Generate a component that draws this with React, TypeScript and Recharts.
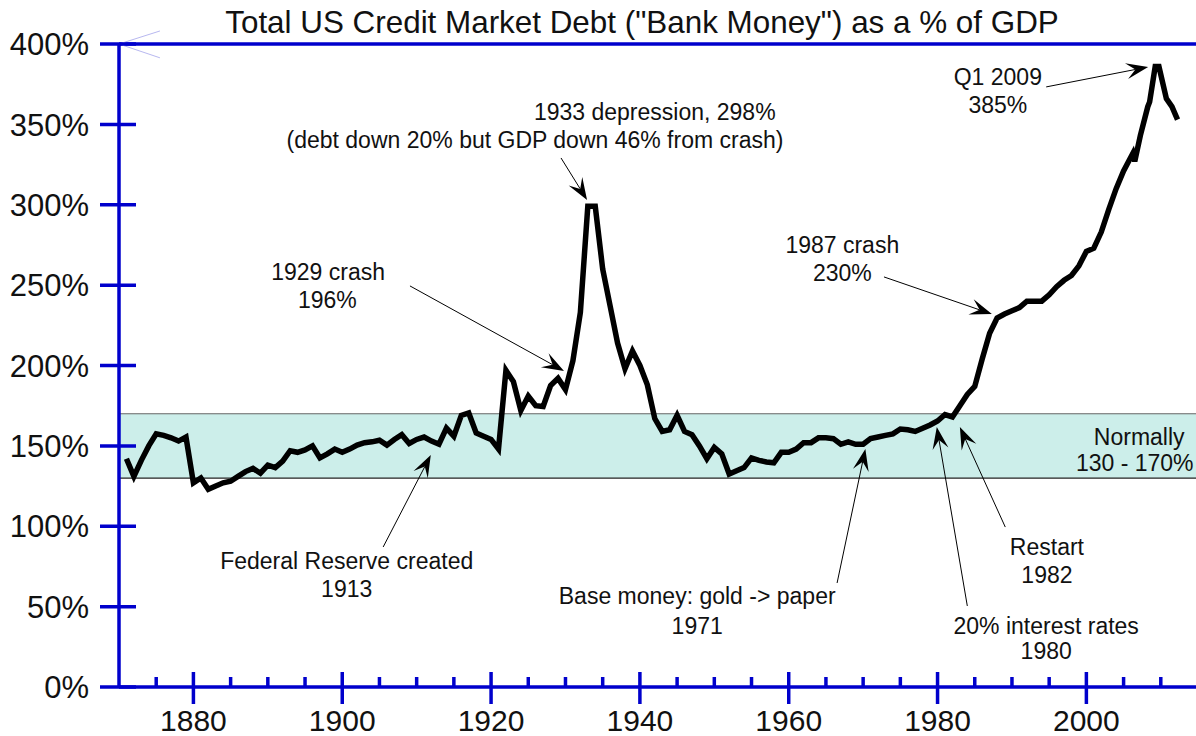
import React from "react";
import {
  LineChart,
  Line,
  XAxis,
  YAxis,
  ReferenceArea,
  ReferenceLine,
  ReferenceDot,
} from "recharts";

// debt as % of GDP (annual, quarterly near the end)
const years = [
  1871, 1872, 1873, 1874, 1875, 1876, 1877, 1878, 1879, 1880,
  1881, 1882, 1883, 1884, 1885, 1886, 1887, 1888, 1889, 1890,
  1891, 1892, 1893, 1894, 1895, 1896, 1897, 1898, 1899, 1900,
  1901, 1902, 1903, 1904, 1905, 1906, 1907, 1908, 1909, 1910,
  1911, 1912, 1913, 1914, 1915, 1916, 1917, 1918, 1919, 1920,
  1921, 1922, 1923, 1924, 1925, 1926, 1927, 1928, 1929, 1930,
  1931, 1932, 1933, 1934, 1935, 1936, 1937, 1938, 1939, 1940,
  1941, 1942, 1943, 1944, 1945, 1946, 1947, 1948, 1949, 1950,
  1951, 1952, 1953, 1954, 1955, 1956, 1957, 1958, 1959, 1960,
  1961, 1962, 1963, 1964, 1965, 1966, 1967, 1968, 1969, 1970,
  1971, 1972, 1973, 1974, 1975, 1976, 1977, 1978, 1979, 1980,
  1981, 1982, 1983, 1984, 1985, 1986, 1987, 1988, 1989, 1990,
  1991, 1992, 1993, 1994, 1995, 1996, 1997, 1998, 1999, 2000,
  2001, 2002, 2003, 2004, 2005, 2006.25, 2006.5, 2007.25, 2008.25, 2008.5,
  2009.25, 2009.75, 2010.75, 2011.5, 2012.25,
];

const debtPct = [
  142, 131, 141, 150, 157.5, 156.5, 155, 153, 155.5, 127,
  130, 123, 125, 127, 128, 131, 134, 136, 133, 138,
  136.5, 140.5, 147, 146, 147.5, 150, 142.5, 145, 148, 146,
  148, 150.5, 152, 152.5, 153.5, 150.5, 154, 157, 151.5, 154,
  155.5, 153, 151, 161, 156, 169, 170.5, 158, 156, 154,
  148, 197, 190, 172, 181, 175, 174.5, 187.5, 192, 185,
  203, 233, 299, 299, 260, 237, 214, 198, 209, 200,
  188, 167, 159, 160, 169, 159, 157, 150, 142, 149,
  145, 132.5, 134.5, 136.5, 142.5, 141, 140, 139.5, 146, 146,
  148, 152, 152, 155, 155, 154.5, 151, 152.5, 151, 151,
  154.5, 155.5, 156.5, 157.5, 160.5, 160, 159, 161, 163, 165.5,
  169.5, 168, 175, 182, 187, 204, 220, 229.5, 232, 234,
  236, 240, 240, 240, 244, 249, 253, 256, 262, 271,
  273, 283, 297, 310, 321, 332, 327, 343, 361, 364,
  386, 386, 366, 361, 353,
];

const yTicks = [0, 50, 100, 150, 200, 250, 300, 350, 400];
const labelYears = [1880, 1900, 1920, 1940, 1960, 1980, 2000];
const xTicks = [
  1875, 1880, 1885, 1890, 1895, 1900, 1905, 1910, 1915, 1920, 1925, 1930,
  1935, 1940, 1945, 1950, 1955, 1960, 1965, 1970, 1975, 1980, 1985, 1990,
  1995, 2000, 2005, 2010,
];

const normalLow = 130;
const normalHigh = 170;

const data = years.map((year, i) => ({ year, pct: debtPct[i] }));

// annotation text, placed in data coordinates
const notes = [
  { x: 1942.0, y: 357.7, text: "1933 depression, 298%" },
  { x: 1925.9, y: 340.3, text: "(debt down 20% but GDP down 46% from crash)" },
  { x: 1898.1, y: 258.2, text: "1929 crash" },
  { x: 1898.0, y: 240.7, text: "196%" },
  { x: 1900.6, y: 78.4, text: "Federal Reserve created" },
  { x: 1900.6, y: 61.0, text: "1913" },
  { x: 1947.7, y: 56.6, text: "Base money: gold -> paper" },
  { x: 1947.7, y: 37.9, text: "1971" },
  { x: 1967.2, y: 275.0, text: "1987 crash" },
  { x: 1967.2, y: 257.5, text: "230%" },
  { x: 1988.1, y: 379.5, text: "Q1 2009" },
  { x: 1988.1, y: 362.1, text: "385%" },
  { x: 2007.1, y: 155.5, text: "Normally" },
  { x: 2006.5, y: 139.3, text: "130 - 170%" },
  { x: 1994.7, y: 87.1, text: "Restart" },
  { x: 1994.7, y: 69.7, text: "1982" },
  { x: 1994.6, y: 37.9, text: "20% interest rates" },
  { x: 1994.6, y: 22.4, text: "1980" },
];

// arrows: from -> tip
const arrows = [
  { from: [1929.4, 329.1], to: [1932.9, 303.0] },
  { from: [1909.1, 249.5], to: [1929.8, 196.6] },
  { from: [1905.5, 87.1], to: [1911.9, 144.3] },
  { from: [1966.5, 64.7], to: [1970.3, 148.1] },
  { from: [1972.8, 255.1], to: [1987.3, 232.0] },
  { from: [1994.6, 373.3], to: [2008.3, 385.7] },
  { from: [1989.1, 99.5], to: [1983.0, 161.7] },
  { from: [1984.0, 50.4], to: [1979.9, 161.7] },
];

const BLUE = "#0000CC";
const FONT = "'Liberation Sans', Arial, sans-serif";

function ArrowShape(props: any) {
  const { x1, y1, x2, y2 } = props;
  const ang = Math.atan2(y2 - y1, x2 - x1);
  const len = 22;
  const half = 8;
  const notch = 13;
  const cos = Math.cos(ang);
  const sin = Math.sin(ang);
  const pt = (back: number, side: number) =>
    `${x2 - back * cos - side * sin},${y2 - back * sin + side * cos}`;
  const head = [pt(0, 0), pt(len, half), pt(notch, 0), pt(len, -half)].join(" ");
  return (
    <g>
      <line x1={x1} y1={y1} x2={x2 - notch * cos} y2={y2 - notch * sin} stroke="#000" strokeWidth={1} />
      <polygon points={head} fill="#000" />
    </g>
  );
}

function YTick(props: any) {
  const { x, y, payload } = props;
  return (
    <g>
      <line x1={x - 19} x2={x + 17} y1={y} y2={y} stroke={BLUE} strokeWidth={3.5} />
      <text x={x - 30} y={y} dy="0.36em" textAnchor="end" fontSize={31} fill="#111" fontFamily={FONT}>
        {payload.value}%
      </text>
    </g>
  );
}

function XTick(props: any) {
  const { x, y, payload } = props;
  const major = labelYears.includes(payload.value);
  return (
    <g>
      {major ? (
        <line x1={x} x2={x} y1={y - 15} y2={y + 17} stroke={BLUE} strokeWidth={3.5} />
      ) : (
        <line x1={x} x2={x} y1={y - 10} y2={y} stroke={BLUE} strokeWidth={3.5} />
      )}
      {major && (
        <text x={x} y={y + 33} dy="0.36em" textAnchor="middle" fontSize={30} fill="#111" fontFamily={FONT}>
          {payload.value}
        </text>
      )}
    </g>
  );
}

export default function App() {
  return (
    <div style={{ position: "relative", width: 1196, height: 736, overflow: "hidden" }}>
      <style>{"body{margin:0;overflow:hidden}"}</style>
      <div
        style={{
          position: "absolute",
          left: 42,
          top: 0,
          width: 1200,
          lineHeight: "45px",
          textAlign: "center",
          fontSize: 31.4,
          fontFamily: FONT,
          color: "#111",
          zIndex: 2,
        }}
      >
        Total US Credit Market Debt ("Bank Money") as a % of GDP
      </div>
      <LineChart
        width={1200}
        height={736}
        data={data}
        margin={{ top: 44, right: 2, bottom: 0, left: 0 }}
      >
        <ReferenceArea
          y1={normalLow}
          y2={normalHigh}
          fill="#CCEEEA"
          fillOpacity={1}
          stroke="none"
          ifOverflow="visible"
        />
        <ReferenceLine y={normalHigh} stroke="#666" strokeWidth={1.2} />
        <ReferenceLine y={normalLow} stroke="#222" strokeWidth={1.2} />
        <XAxis
          dataKey="year"
          type="number"
          domain={[1870, 2015]}
          ticks={xTicks}
          interval={0}
          height={49}
          tickSize={0}
          tickMargin={0}
          tickLine={false}
          axisLine={{ stroke: BLUE, strokeWidth: 3.5 }}
          tick={<XTick />}
        />
        <YAxis
          type="number"
          domain={[0, 400]}
          ticks={yTicks}
          interval={0}
          width={119}
          tickSize={0}
          tickMargin={0}
          tickLine={false}
          axisLine={{ stroke: BLUE, strokeWidth: 3.5 }}
          tick={<YTick />}
        />
        <ReferenceLine y={400} stroke={BLUE} strokeWidth={3.5} />
        <ReferenceLine
          segment={[{ x: 1870, y: 400 }, { x: 1875.5, y: 408.1 }]}
          stroke="#B8B8F0"
          strokeWidth={1}
          ifOverflow="visible"
        />
        <ReferenceLine
          segment={[{ x: 1870, y: 400 }, { x: 1875.5, y: 391.4 }]}
          stroke="#B8B8F0"
          strokeWidth={1}
          ifOverflow="visible"
        />
        <Line
          type="linear"
          dataKey="pct"
          stroke="#000"
          strokeWidth={5.5}
          strokeLinejoin="miter"
          dot={false}
          activeDot={false}
          isAnimationActive={false}
        />
        {arrows.map((a, i) => (
          <ReferenceLine
            key={"a" + i}
            segment={[
              { x: a.from[0], y: a.from[1] },
              { x: a.to[0], y: a.to[1] },
            ]}
            ifOverflow="visible"
            shape={ArrowShape}
          />
        ))}
        {notes.map((n, i) => (
          <ReferenceDot
            key={"n" + i}
            x={n.x}
            y={n.y}
            r={0}
            ifOverflow="visible"
            shape={(p: any) => (
              <text
                x={p.cx}
                y={p.cy}
                dy="0.36em"
                textAnchor="middle"
                fontSize={23}
                fill="#111"
                fontFamily={FONT}
              >
                {n.text}
              </text>
            )}
          />
        ))}
      </LineChart>
    </div>
  );
}
